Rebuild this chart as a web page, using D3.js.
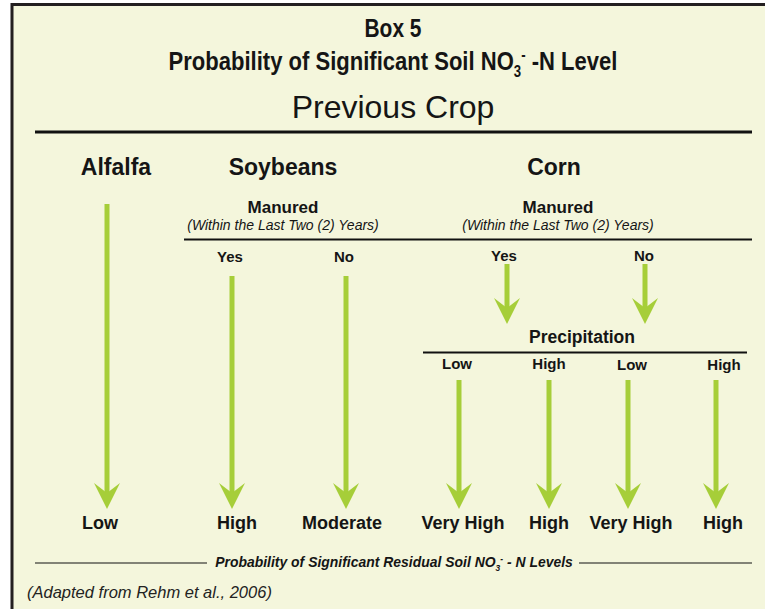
<!DOCTYPE html>
<html><head><meta charset="utf-8">
<script src="https://cdn.jsdelivr.net/npm/d3@7"></script>
<style>
html,body{margin:0;padding:0;background:#fff;}
svg{display:block;}
</style></head>
<body>
<script>
// ---------- data ----------
const boxTitle = "Box 5";
const mainTitle = ["Probability of Significant Soil NO", "3", "-", " -N Level"];
const sectionTitle = "Previous Crop";
const crops = ["Alfalfa", "Soybeans", "Corn"];
const manuredLabel = "Manured";
const manuredNote = "(Within the Last Two (2) Years)";
const manuredOptions = ["Yes", "No"];
const precipLabel = "Precipitation";
const precipOptions = ["Low", "High", "Low", "High"];
const outcomes = ["Low", "High", "Moderate", "Very High", "High", "Very High", "High"];
const footLabel = ["Probability of Significant Residual Soil NO", "3", "-", " - N Levels"];
const sourceNote = "(Adapted from Rehm et al., 2006)";

// ---------- layout ----------
const W = 765, H = 609;
const green = "#a6ce39", ink = "#151515", bg = "#f4f6dc";
const cropX = d3.scaleOrdinal().domain(crops).range([116, 283, 554]);
const outX = d3.scaleOrdinal().domain(d3.range(outcomes.length)).range([107, 232, 346, 459, 549, 628, 716]);
const outLabelX = d3.scaleOrdinal().domain(d3.range(outcomes.length)).range([100, 237, 342, 463, 549, 631, 723]);
const soyOptX = d3.scaleOrdinal().domain(manuredOptions).range([230, 344]);
const cornOptX = d3.scaleOrdinal().domain(manuredOptions).range([504, 644]);
const cornArrowX = d3.scaleOrdinal().domain(manuredOptions).range([507, 645]);
const precipX = d3.scaleOrdinal().domain(d3.range(precipOptions.length)).range([457, 549, 632, 724]);
const y = d3.scaleLinear().domain([0, 1]).range([0, 1]); // identity pixel scale

const svg = d3.select("body").append("svg").attr("width", W).attr("height", H);
svg.append("rect").attr("x", 12).attr("y", 4.5).attr("width", W).attr("height", H).attr("fill", bg)
  .attr("stroke", "#231f20").attr("stroke-width", 3);

function txt(x, yy, s, size, weight, style, anchor) {
  return svg.append("text").attr("x", x).attr("y", y(yy)).text(s)
    .attr("font-family", "'Liberation Sans', Arial, sans-serif")
    .attr("font-size", size).attr("font-weight", weight || "bold")
    .attr("font-style", style || "normal").attr("fill", ink)
    .attr("text-anchor", anchor || "middle");
}
function fitX(sel, cx, targetW) {
  const b = sel.node().getBBox();
  const k = targetW / b.width;
  sel.attr("transform", `translate(${cx},0) scale(${k},1) translate(${-cx},0)`);
}
function chem(x, yy, parts, size, style, anchor) {
  const t = svg.append("text").attr("x", x).attr("y", yy)
    .attr("font-family", "'Liberation Sans', Arial, sans-serif")
    .attr("font-size", size).attr("font-weight", "bold").attr("font-style", style)
    .attr("fill", ink).attr("text-anchor", anchor).attr("xml:space", "preserve");
  t.append("tspan").text(parts[0]);
  t.append("tspan").text(parts[1]).attr("font-size", size * 0.6).attr("dy", size * 0.28);
  t.append("tspan").text(parts[2]).attr("font-size", size * 0.6).attr("dy", -size * 0.65);
  t.append("tspan").text(parts[3]).attr("dy", size * 0.37);
  return t;
}

// Titles (condensed bold look)
const t1 = txt(393, 37, boxTitle, 26, "bold");
fitX(t1, 393, 57);
const t2 = chem(393, 70, mainTitle, 26, "normal", "middle");
fitX(t2, 393, 449);
txt(393, 118, sectionTitle, 32, "normal");
svg.append("line").attr("x1", 35).attr("x2", 752).attr("y1", 132).attr("y2", 132)
  .attr("stroke", "#111").attr("stroke-width", 3);

// Crop headers
crops.forEach(c => txt(cropX(c), 175, c, 23, "bold"));

// Manured headers
["Soybeans", "Corn"].forEach(c => {
  const cx = c === "Soybeans" ? 283 : 558;
  txt(cx, 213, manuredLabel, 17, "bold");
  txt(cx, 230, manuredNote, 14, "normal", "italic");
});
svg.append("line").attr("x1", 184).attr("x2", 752).attr("y1", 239.5).attr("y2", 239.5)
  .attr("stroke", "#111").attr("stroke-width", 2);
manuredOptions.forEach(o => {
  txt(soyOptX(o), 262, o, 15, "bold");
  txt(cornOptX(o), 261, o, 15, "bold");
});

// Precipitation
txt(582, 343, precipLabel, 17.5, "bold");
svg.append("line").attr("x1", 423).attr("x2", 747).attr("y1", 352.5).attr("y2", 352.5)
  .attr("stroke", "#111").attr("stroke-width", 2);
precipOptions.forEach((p, i) => txt(precipX(i), i < 2 ? 369 : 370, p, 15, "bold"));

// Arrows
function arrow(x, y0, tip) {
  const g = svg.append("g");
  g.append("line").attr("x1", x).attr("x2", x).attr("y1", y(y0)).attr("y2", y(tip) - 14)
    .attr("stroke", green).attr("stroke-width", 5);
  g.append("path").attr("d", `M${x - 13},${tip - 26} L${x},${tip} L${x + 13},${tip - 26} L${x},${tip - 16} Z`)
    .attr("fill", green);
}
const arrowTops = [204, 276, 276, 380, 380, 380, 380];
outcomes.forEach((o, i) => arrow(outX(i), arrowTops[i], 509));
manuredOptions.forEach(o => arrow(cornArrowX(o), 264, 324));

// Outcome labels
outcomes.forEach((o, i) => txt(outLabelX(i), 529, o, 18, "bold"));

// Footer
const f = chem(394, 567, footLabel, 14, "italic", "middle");
fitX(f, 394, 358);
svg.append("line").attr("x1", 35).attr("x2", 207).attr("y1", 563).attr("y2", 563).attr("stroke", "#111").attr("stroke-width", 1.2);
svg.append("line").attr("x1", 579).attr("x2", 752).attr("y1", 563).attr("y2", 563).attr("stroke", "#111").attr("stroke-width", 1.2);
txt(27, 598, sourceNote, 16.5, "normal", "italic", "start").attr("fill", "#222");
</script>
</body></html>
